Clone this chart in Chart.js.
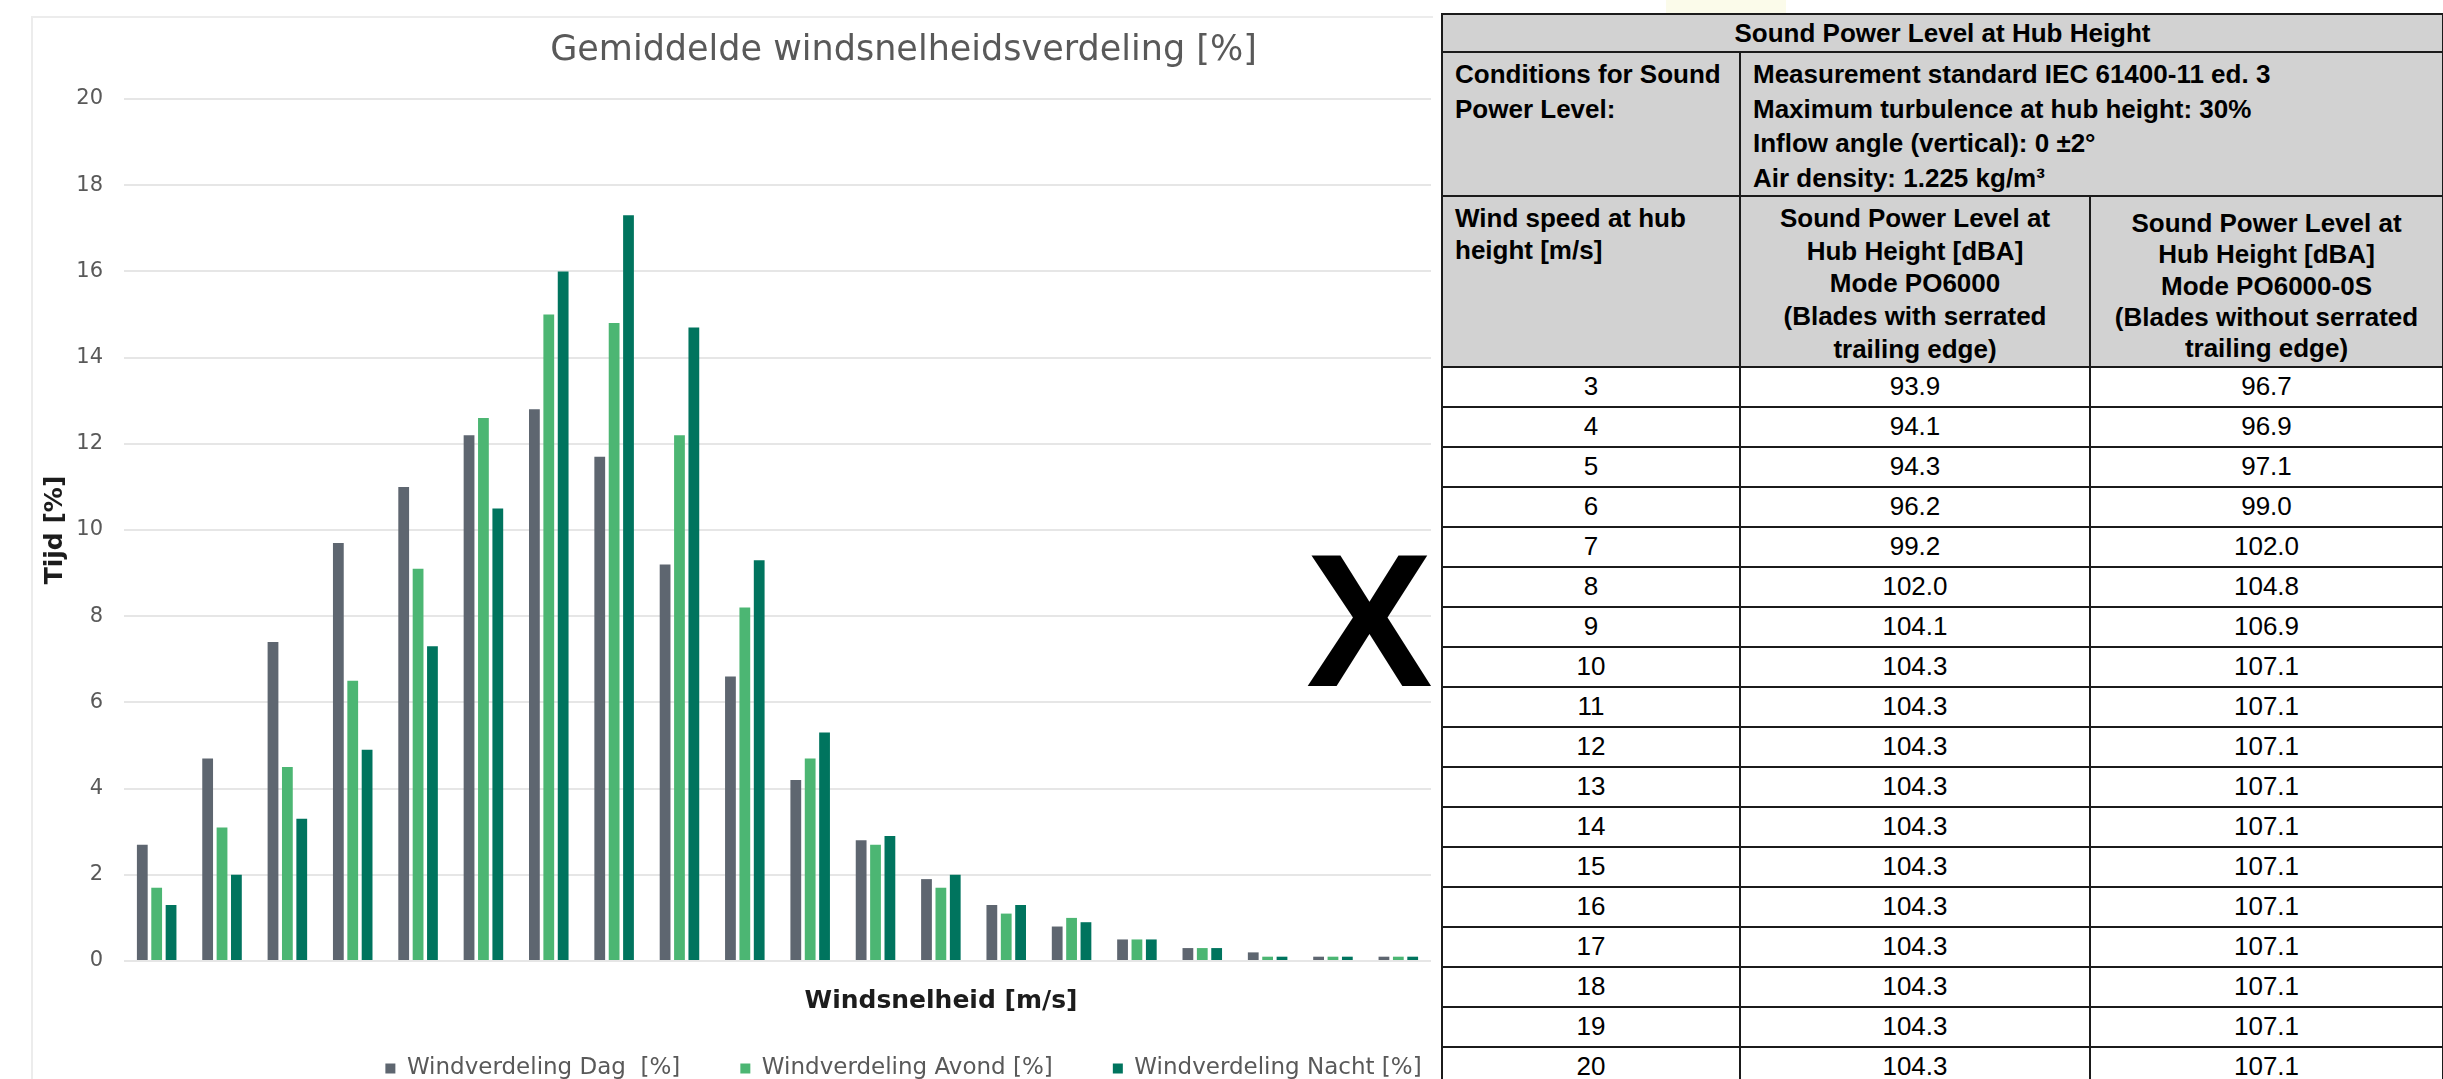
<!DOCTYPE html>
<html>
<head>
<meta charset="utf-8">
<script src="https://cdn.jsdelivr.net/npm/chart.js@4.4.1/dist/chart.umd.min.js"></script>
<style>
    html, body { margin: 0; padding: 0; background: #fff; overflow: hidden; }
    body { width: 2443px; height: 1079px; position: relative; }
    #kader { position: absolute; left: 31px; top: 16px; width: 1400px; height: 1100px; border-top: 2px solid #ececec; border-left: 2px solid #ececec; }
    #grafiek { position: absolute; left: 0; top: 0; }
    #vlek { position: absolute; left: 1666px; top: 0; width: 120px; height: 13px; background: #fbfbea; }
    #kruis { position: absolute; left: 1306px; top: 525px; font-family: 'Liberation Sans', Arial, sans-serif; font-weight: bold; font-size: 190px; line-height: 190px; color: #000; z-index: 3; }
    #tabel { position: absolute; left: 1441px; top: 13px; border-collapse: collapse; table-layout: fixed; width: 1001px; font-family: 'Liberation Sans', Arial, sans-serif; font-size: 26px; color: #000; background: #fff; z-index: 2; }
    #tabel td { border: 2px solid #1b1b1b; padding: 0 12px; white-space: nowrap; overflow: hidden; }
    #tabel .kop td { background: #d2d2d2; font-weight: bold; }
    #tabel .data td { text-align: center; height: 38px; padding: 0; }
</style>
</head>
<body>
<div id="kader"></div>
<canvas id="grafiek" width="1807" height="1090"></canvas>
<div id="vlek"></div>
<div id="kruis">X</div>

<table id="tabel">
    <colgroup><col style="width:298px"><col style="width:350px"><col style="width:353px"></colgroup>
    <tr class="kop" style="height:38px">
        <td colspan="3" style="text-align:center">Sound Power Level at Hub Height</td>
    </tr>
    <tr class="kop" style="height:142px">
        <td style="vertical-align:top; line-height:34.5px; padding-top:4px">Conditions for Sound<br>Power Level:</td>
        <td colspan="2" style="vertical-align:top; line-height:34.5px; padding-top:4px">Measurement standard IEC 61400-11 ed. 3<br>Maximum turbulence at hub height: 30%<br>Inflow angle (vertical): 0 ±2°<br>Air density: 1.225 kg/m³</td>
    </tr>
    <tr class="kop" style="height:169px">
        <td style="vertical-align:top; line-height:32px; padding-top:5px">Wind speed at hub<br>height [m/s]</td>
        <td style="vertical-align:top; line-height:32.7px; padding-top:5px; text-align:center">Sound Power Level at<br>Hub Height [dBA]<br>Mode PO6000<br>(Blades with serrated<br>trailing edge)</td>
        <td style="vertical-align:top; line-height:31.3px; padding-top:11px; text-align:center">Sound Power Level at<br>Hub Height [dBA]<br>Mode PO6000-0S<br>(Blades without serrated<br>trailing edge)</td>
    </tr>
</table>

<script>
var windsnelheid = ['1', '2', '3', '4', '5', '6', '7', '8', '9', '10', '11', '12', '13', '14', '15', '16', '17', '18', '19', '20']
var dag = [2.7, 4.7, 7.4, 9.7, 11.0, 12.2, 12.8, 11.7, 9.2, 6.6, 4.2, 2.8, 1.9, 1.3, 0.8, 0.5, 0.3, 0.2, 0.1, 0.1]
var avond = [1.7, 3.1, 4.5, 6.5, 9.1, 12.6, 15.0, 14.8, 12.2, 8.2, 4.7, 2.7, 1.7, 1.1, 1.0, 0.5, 0.3, 0.1, 0.1, 0.1]
var nacht = [1.3, 2.0, 3.3, 4.9, 7.3, 10.5, 16.0, 17.3, 14.7, 9.3, 5.3, 2.9, 2.0, 1.3, 0.9, 0.5, 0.3, 0.1, 0.1, 0.1]
var yMin = 0
var yMax = 20
var yStap = 2

// tabel: geluidvermogen per windsnelheid
var hubWind = [3, 4, 5, 6, 7, 8, 9, 10, 11, 12, 13, 14, 15, 16, 17, 18, 19, 20]
var modePO6000 = ['93.9', '94.1', '94.3', '96.2', '99.2', '102.0', '104.1', '104.3', '104.3', '104.3', '104.3', '104.3', '104.3', '104.3', '104.3', '104.3', '104.3', '104.3']
var modePO6000_0S = ['96.7', '96.9', '97.1', '99.0', '102.0', '104.8', '106.9', '107.1', '107.1', '107.1', '107.1', '107.1', '107.1', '107.1', '107.1', '107.1', '107.1', '107.1']

var tabel = document.getElementById('tabel')
for (var i = 0; i < hubWind.length; i++) {
    var rij = tabel.insertRow()
    rij.className = 'data'
    rij.style.height = '40px'
    var waarden = [hubWind[i], modePO6000[i], modePO6000_0S[i]]
    for (var k = 0; k < 3; k++) {
        rij.insertCell().textContent = waarden[k]
    }
}

// x-as titel staat niet in het midden van het plotgebied
var xTitel = {
    id: 'xTitel',
    afterDraw: function (chart) {
        var ctx = chart.ctx
        ctx.save()
        ctx.font = 'bold 25px "DejaVu Sans"'
        ctx.fillStyle = '#1c1c1c'
        ctx.textAlign = 'center'
        ctx.textBaseline = 'middle'
        ctx.fillText('Windsnelheid [m/s]', 941, chart.chartArea.bottom + 40)
        ctx.restore()
    }
}

var grijs = '#595959'

new Chart(document.getElementById('grafiek'), {
    type: 'bar',
    data: {
        labels: windsnelheid,
        datasets: [
            { label: 'Windverdeling Dag  [%]', data: dag, backgroundColor: '#5e6670' },
            { label: 'Windverdeling Avond [%]', data: avond, backgroundColor: '#4cb673' },
            { label: 'Windverdeling Nacht [%]', data: nacht, backgroundColor: '#00745e' }
        ]
    },
    options: {
        responsive: false,
        animation: false,
        devicePixelRatio: 1,
        layout: { padding: 0 },
        datasets: { bar: { categoryPercentage: 0.66, barPercentage: 0.75 } },
        plugins: {
            title: {
                display: true,
                text: 'Gemiddelde windsnelheidsverdeling [%]',
                color: grijs,
                font: { family: 'DejaVu Sans', size: 35, weight: 'normal' },
                padding: { top: 30, bottom: 27 }
            },
            legend: {
                position: 'bottom',
                labels: {
                    boxWidth: 10,
                    boxHeight: 10,
                    padding: 60,
                    color: grijs,
                    font: { family: 'DejaVu Sans', size: 23 }
                }
            },
            tooltip: { enabled: false }
        },
        scales: {
            x: {
                grid: { display: false },
                border: { display: false },
                ticks: { display: false },
                afterFit: function (s) { s.height = 36 }
            },
            y: {
                min: yMin,
                max: yMax,
                ticks: { stepSize: yStap, padding: 21, color: grijs, font: { family: 'DejaVu Sans', size: 21 } },
                grid: { color: '#e6e6e6', lineWidth: 2, drawTicks: false },
                border: { display: false },
                title: {
                    display: true,
                    text: 'Tijd [%]',
                    color: '#1c1c1c',
                    font: { family: 'DejaVu Sans', size: 25, weight: 'bold' },
                    padding: { top: 40, bottom: 0 }
                },
                afterFit: function (s) { s.width = 124 }
            },
            // lege as rechts: ruimte die onder tabel en kruis valt
            rechts: {
                position: 'right',
                grid: { display: false },
                border: { display: false },
                ticks: { display: false },
                afterFit: function (s) { s.width = 376 }
            }
        }
    },
    plugins: [xTitel]
})
</script>
</body>
</html>
